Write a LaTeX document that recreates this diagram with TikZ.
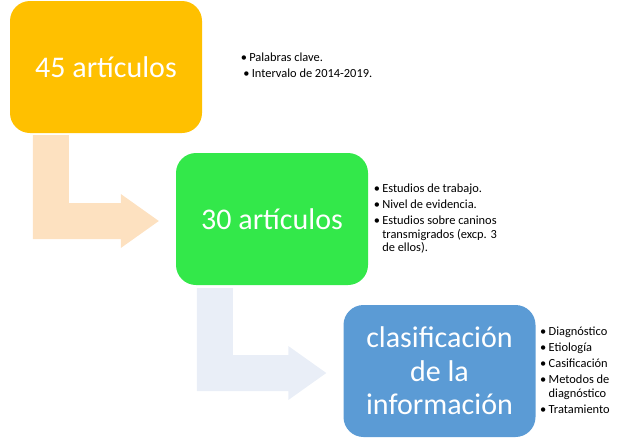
\documentclass[tikz,border=0pt]{standalone}
\usepackage{fontspec}
\setmainfont{Carlito}
\usetikzlibrary{calc,positioning}
\definecolor{boxorange}{HTML}{FFC000}
\definecolor{boxgreen}{HTML}{33E84A}
\definecolor{boxblue}{HTML}{5B9BD5}
\definecolor{arrowpeach}{HTML}{FDE1C0}
\definecolor{arrowblue}{HTML}{E9EEF7}
\tikzset{
    box/.style={rounded corners=20pt, minimum width=192pt, minimum height=132pt,
        inner sep=0pt, text=white, align=center,
        font=\fontsize{30}{33.5}\selectfont}, % the three big rounded boxes
    notes/.style={anchor=north west, align=left, inner sep=0pt,
        font=\fontsize{12.4}{13.5}\selectfont}, % the bullet lists beside them
}
% bullet and the indent of a wrapped line
\newcommand{\bul}{\makebox[8.5pt][l]{\textbullet}}
\newcommand{\ind}{\hspace*{8.5pt}}
% bent block arrow: #1 top of the bar, #2 tip, #3 colour
\newcommand{\bentarrow}[3]{%
  \fill[#3] let \p1=(#1), \p2=(#2) in
    (\x1-18pt,\y1) -- (\x1+18pt,\y1) -- (\x1+18pt,\y2+18pt) -- (\x2-38pt,\y2+18pt)
    -- (\x2-38pt,\y2+27pt) -- (\x2,\y2) -- (\x2-38pt,\y2-27pt) -- (\x2-38pt,\y2-18pt)
    -- (\x1-18pt,\y2-18pt) -- cycle;
}

\begin{document}
\begin{tikzpicture}[x=1pt,y=-1pt]
  \useasboundingbox (0,0) rectangle (618,442);

  \node[box,fill=boxorange] (art_45) at (106,67)    {45 artículos};
  \node[box,fill=boxgreen]  (art_30) at (272,219)   {30 artículos};
  \node[box,fill=boxblue]   (info)   at (439.5,371) {clasificación\\de la\\información};

  \node[notes] (n_45) at (240.6,52) {\strut\bul Palabras clave.\\[2.5pt]
      \hspace*{2.5pt}\bul Intervalo de 2014-2019.};
  \node[notes] (n_30) at (373.6,183) {\strut\bul Estudios de trabajo.\\[2.5pt]
      \bul Nivel de evidencia.\\[2.5pt]
      \bul Estudios sobre caninos\\ \ind transmigrados (excp. 3\\ \ind de ellos).};
  \node[notes] (n_info) at (540,326) {\strut\bul Diagnóstico\\[2.5pt]
      \bul Etiología\\[2.5pt]
      \bul Casificación\\[2.5pt]
      \bul Metodos de\\ \ind diagnóstico\\[2.5pt]
      \bul Tratamiento};

  % arrows between the boxes
  \path (art_45.south west) ++(41,2) coordinate (s_1);
  \path (art_30.west) ++(-17,2) coordinate (t_1);
  \path (art_30.south west) ++(39,3) coordinate (s_2);
  \path (info.west) ++(-17,2) coordinate (t_2);
  \bentarrow{s_1}{t_1}{arrowpeach}
  \bentarrow{s_2}{t_2}{arrowblue}
\end{tikzpicture}
\end{document}
